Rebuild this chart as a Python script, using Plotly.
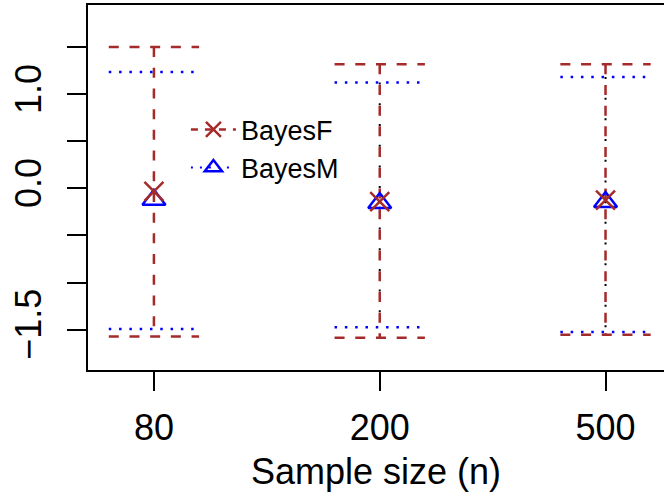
import plotly.graph_objects as go

# ---- data ----
n_labels = ["80", "200", "500"]
x_pos = [1, 2, 3]

F_est = [-0.03, -0.14, -0.125]
F_low = [-1.575, -1.586, -1.554]
F_up = [1.503, 1.320, 1.320]

M_est = [-0.12, -0.155, -0.145]
M_low = [-1.494, -1.476, -1.525]
M_up = [1.238, 1.125, 1.185]

y_tickvals = [-1.5, -1.0, -0.5, 0.0, 0.5, 1.0, 1.5]
y_ticktext = ["\u22121.5", "", "", "0.0", "", "1.0", ""]

# ---- style ----
BROWN = "#A52A2A"
BLUE = "#0000FF"
CAP = 0.2
FONT = "Liberation Sans, Arial, Helvetica, sans-serif"
DASH_F = "10px,10.7px"
DASH_M = "2.5px,7.8px"
DASH_K = "2px,18.7px"

fig = go.Figure()

# black dotted vertical lines (beneath)
for i, x in enumerate(x_pos):
    fig.add_trace(go.Scatter(x=[x, x], y=[M_up[i], M_low[i]], mode="lines",
                             line=dict(color="black", width=2, dash=DASH_K),
                             showlegend=False, hoverinfo="skip"))

# brown dashed verticals and caps
for i, x in enumerate(x_pos):
    fig.add_trace(go.Scatter(x=[x, x], y=[F_up[i], F_low[i]], mode="lines",
                             line=dict(color=BROWN, width=2.5, dash=DASH_F),
                             showlegend=False, hoverinfo="skip"))
    for yv in (F_up[i], F_low[i]):
        fig.add_trace(go.Scatter(x=[x - CAP, x + CAP], y=[yv, yv], mode="lines",
                                 line=dict(color=BROWN, width=2.5, dash=DASH_F),
                                 showlegend=False, hoverinfo="skip"))
    for yv in (M_up[i], M_low[i]):
        fig.add_trace(go.Scatter(x=[x - CAP, x + CAP], y=[yv, yv], mode="lines",
                                 line=dict(color=BLUE, width=2.5, dash=DASH_M),
                                 showlegend=False, hoverinfo="skip"))

# point estimates
fig.add_trace(go.Scatter(x=x_pos, y=M_est, mode="markers", name="BayesM",
                         marker=dict(symbol="triangle-up-open", size=20, color=BLUE,
                                     line=dict(width=2.5, color=BLUE)),
                         showlegend=False))
fig.add_trace(go.Scatter(x=x_pos, y=F_est, mode="markers", name="BayesF",
                         marker=dict(symbol="x-thin-open", size=19, color=BROWN,
                                     line=dict(width=2.5, color=BROWN)),
                         showlegend=False))

# legend entries
fig.add_trace(go.Scatter(x=[None], y=[None], mode="lines+markers", name="BayesF",
                         line=dict(color=BROWN, width=2.5, dash="7px,7px"),
                         marker=dict(symbol="x-thin-open", size=15, color=BROWN,
                                     line=dict(width=2.5, color=BROWN))))
fig.add_trace(go.Scatter(x=[None], y=[None], mode="lines+markers", name="BayesM",
                         line=dict(color=BLUE, width=2, dash="2px,7px"),
                         marker=dict(symbol="triangle-up-open", size=15, color=BLUE,
                                     line=dict(width=2.5, color=BLUE))))

fig.update_layout(
    width=664, height=504,
    margin=dict(l=88, r=0, t=5, b=134),
    paper_bgcolor="white", plot_bgcolor="white",
    font=dict(family=FONT, color="black", size=36),
    legend=dict(x=0.17, y=0.725, xanchor="left", yanchor="top",
                bgcolor="rgba(0,0,0,0)", borderwidth=0,
                font=dict(size=27, family=FONT), itemwidth=45,
                tracegroupgap=0),
    showlegend=True,
)
fig.update_xaxes(range=[0.708, 3.259], tickvals=x_pos, ticktext=n_labels,
                 showgrid=False, zeroline=False, showline=True, linecolor="black",
                 linewidth=2, mirror=True, ticks="outside", ticklen=19,
                 tickwidth=1.5, tickcolor="black", tickfont=dict(size=36),
                 ticklabelstandoff=6,
                 title=dict(text="Sample size (n)", font=dict(size=36), standoff=12))
fig.update_yaxes(range=[-1.93, 1.95], tickvals=y_tickvals, ticktext=y_ticktext,
                 showgrid=False, zeroline=False, showline=True, linecolor="black",
                 linewidth=2, ticks="outside", ticklen=19, tickwidth=1.5,
                 tickcolor="black", tickangle=-90, tickfont=dict(size=36),
                 ticklabelstandoff=12)

fig.write_html("out.html")
